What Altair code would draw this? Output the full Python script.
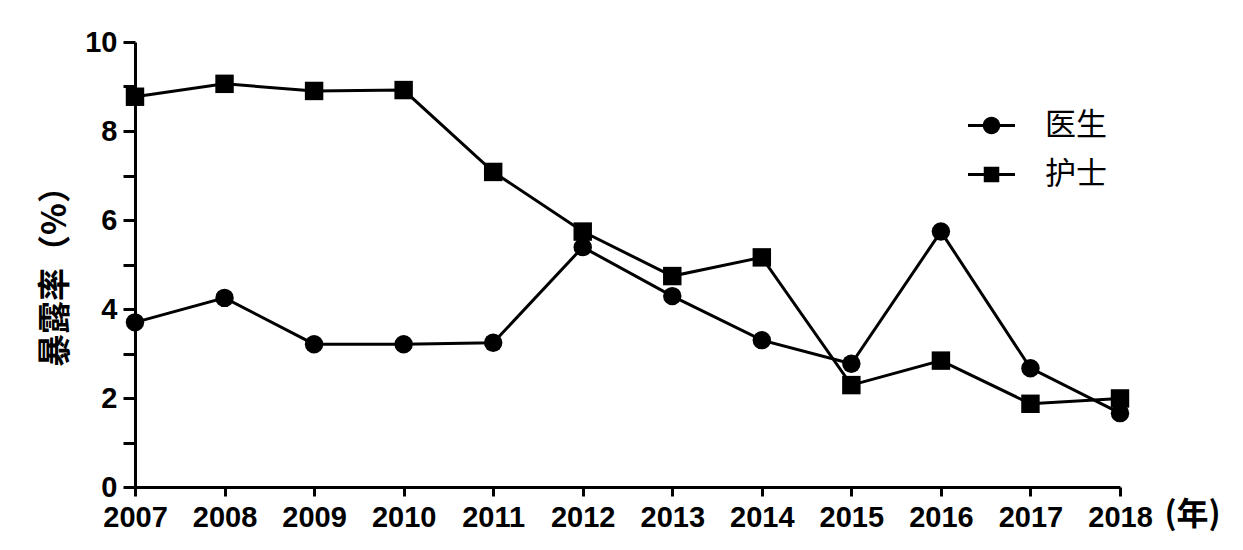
import altair as alt
import pandas as pd

years = [2007, 2008, 2009, 2010, 2011, 2012, 2013, 2014, 2015, 2016, 2017, 2018]
doctor = [3.70, 4.25, 3.21, 3.21, 3.24, 5.39, 4.29, 3.30, 2.77, 5.74, 2.67, 1.66]
nurse = [8.77, 9.06, 8.90, 8.92, 7.08, 5.74, 4.74, 5.16, 2.29, 2.84, 1.87, 1.99]
groups = ["医生", "护士"]
y_ticks = [0, 1, 2, 3, 4, 5, 6, 7, 8, 9, 10]

rows = []
for y, d, n in zip(years, doctor, nurse):
    rows.append({"year": y, "value": d, "group": groups[0]})
    rows.append({"year": y, "value": n, "group": groups[1]})
df = pd.DataFrame(rows)

cjk = "Noto Sans CJK SC"
num = "Liberation Sans"

x_enc = alt.X(
    "year:Q",
    scale=alt.Scale(domain=[years[0], years[-1]], nice=False, zero=False),
    axis=alt.Axis(
        values=years, format="d", title="(年)", grid=False,
        labelFont=num, labelFontSize=29, labelFontWeight="bold", labelColor="black",
        labelPadding=7, labelFlush=False, tickSize=9, tickWidth=3, tickColor="black",
        domainWidth=3, domainColor="black",
        titleFont=cjk, titleFontSize=32, titleFontWeight="bold", titleColor="black",
        titleAngle=0, titleX=1057, titleY=27, titleAlign="center", titleBaseline="middle",
    ),
)
y_enc = alt.Y(
    "value:Q",
    scale=alt.Scale(domain=[0, 10], nice=False),
    axis=alt.Axis(
        values=y_ticks, labelExpr="datum.value % 2 == 0 ? datum.label : ''",
        title="暴露率（%）", grid=False,
        labelFont=num, labelFontSize=29, labelFontWeight="bold", labelColor="black",
        labelPadding=6, tickSize=12, tickWidth=3, tickColor="black",
        domainWidth=3, domainColor="black",
        titleFont=cjk, titleFontSize=33, titleFontWeight="bold", titleColor="black",
        titleX=-80, titleY=226, titleAlign="center", titleBaseline="middle",
    ),
)

base = alt.Chart(df)
lines = base.mark_line(color="black", strokeWidth=3).encode(
    x=x_enc, y=y_enc, detail="group:N"
)
pts_doc = base.transform_filter(alt.datum.group == groups[0]).mark_point(
    filled=True, color="black", opacity=1, size=340, shape="circle"
).encode(x=x_enc, y=y_enc)
pts_nur = base.transform_filter(alt.datum.group == groups[1]).mark_point(
    filled=True, color="black", opacity=1, size=340, shape="square"
).encode(x=x_enc, y=y_enc)

h = 0.066
circle_path = (
    "M-1,-{h}H-0.3V{h}H-1Z M0.3,-{h}H1V{h}H0.3Z "
    "M0.37,0A0.37,0.37 0 1,1 -0.37,0A0.37,0.37 0 1,1 0.37,0Z"
).format(h=h)
square_path = (
    "M-1,-{h}H-0.33V{h}H-1Z M0.33,-{h}H1V{h}H0.33Z "
    "M-0.33,-0.33H0.33V0.33H-0.33Z"
).format(h=h)
legend_layer = base.mark_point(filled=True, color="black", opacity=0).encode(
    x=x_enc,
    y=y_enc,
    shape=alt.Shape(
        "group:N",
        scale=alt.Scale(domain=groups, range=[circle_path, square_path]),
        legend=alt.Legend(
            title=None, orient="none", legendX=833, legendY=60,
            labelFont=cjk, labelFontSize=31, labelColor="black", labelOffset=30,
            symbolSize=2209, symbolStrokeWidth=0, symbolFillColor="black",
            symbolOpacity=1, rowPadding=10, padding=0,
        ),
    ),
)

chart = (
    alt.layer(lines, pts_doc, pts_nur, legend_layer)
    .properties(
        width=985, height=445,
        autosize=alt.AutoSizeParams(type="none"),
        padding={"left": 127, "top": 34, "right": 110, "bottom": 50},
        background="white",
    )
    .configure_view(stroke=None)
)

chart.save("out.html", embed_options={"renderer": "svg", "actions": False})
